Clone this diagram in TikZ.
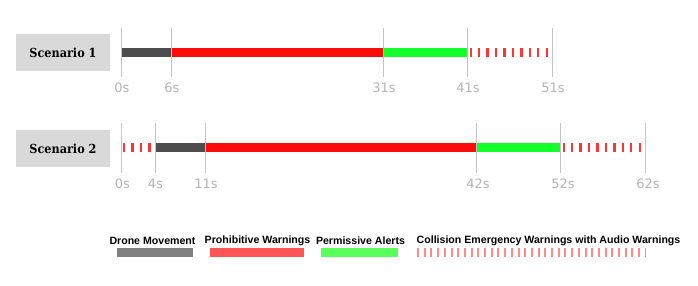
\documentclass[tikz,border=0pt]{standalone}
\usepackage{fontspec}
\setmainfont{DejaVu Serif Condensed}
\newfontfamily\legfont{Liberation Sans}
\newfontfamily\tickfont{DejaVu Sans}
\definecolor{movecol}{HTML}{4D4D4D}
\definecolor{prohcol}{HTML}{FF0A0A}
\definecolor{permcol}{HTML}{12FF2A}
\definecolor{emercol}{HTML}{FF3535}
\definecolor{tickcol}{HTML}{C4C4C4}
\definecolor{labcol}{HTML}{B4B4B4}
\definecolor{boxcol}{HTML}{D9D9D9}
\definecolor{legmove}{HTML}{808080}
\definecolor{legproh}{HTML}{FF5555}
\definecolor{legperm}{HTML}{5AFF5A}
\definecolor{legemer}{HTML}{FF8A8A}
\begin{document}
\begin{tikzpicture}[x=1pt,y=-1pt,
  scenbox/.style={fill=boxcol,minimum width=94pt,minimum height=37pt,inner sep=0pt,font=\bfseries\fontsize{12.5}{15}\selectfont},
  bar/.style={line width=9pt},
  emerdash/.style={line width=9pt,color=emercol,dash pattern=on 2.3pt off 6.15pt},
  tickline/.style={draw=tickcol,line width=0.8pt},
  ticklab/.style={text=labcol,font=\tickfont\fontsize{13}{15}\selectfont,inner sep=0pt},
  legtext/.style={font=\legfont\bfseries\fontsize{10.6}{12}\selectfont,inner sep=0pt},
  legbar/.style={line width=9pt}]
\useasboundingbox (0,0) rectangle (698,285);
% scenario boxes
\node[scenbox] (s1) at (63,52.5) {Scenario 1};
\node[scenbox] (s2) at (63,148.5) {Scenario 2};
% scenario 1 coordinates
\foreach \n/\x in {a/121,b/171.7,c/383,d/467.5,e/552}{
  \coordinate (t1\n) at (\x,28);
  \coordinate (b1\n) at (\x,77);
  \coordinate (m1\n) at (\x,52.5);
}
\coordinate (m1end) at (549,52.5);
\draw[bar,movecol] (m1a) -- (m1b);
\draw[bar,prohcol] (m1b) -- (m1c);
\draw[bar,permcol] (m1c) -- (m1d);
\draw[emerdash] ([xshift=2pt]m1d) -- (m1end);
\foreach \n in {a,b,c,d,e}{\draw[tickline] (t1\n) -- (b1\n);}
\node[ticklab] (l1a) at (122,88) {0s};
\node[ticklab] (l1b) at (172,88) {6s};
\node[ticklab] (l1c) at (384,88) {31s};
\node[ticklab] (l1d) at (468,88) {41s};
\node[ticklab] (l1e) at (553,88) {51s};
% scenario 2 coordinates
\foreach \n/\x in {a/121.5,b/155,c/205.5,d/476,e/560.5,f/645}{
  \coordinate (t2\n) at (\x,123);
  \coordinate (b2\n) at (\x,173);
  \coordinate (m2\n) at (\x,147.5);
}
\coordinate (m2end) at (642,147.5);
\coordinate (m2pre) at (153,147.5);
\draw[emerdash] ([xshift=1.5pt]m2a) -- (m2pre);
\draw[bar,movecol] (m2b) -- (m2c);
\draw[bar,prohcol] (m2c) -- (m2d);
\draw[bar,permcol] (m2d) -- (m2e);
\draw[emerdash] ([xshift=2pt]m2e) -- (m2end);
\foreach \n in {a,b,c,d,e,f}{\draw[tickline] (t2\n) -- (b2\n);}
\node[ticklab] (l2a) at (122.5,184) {0s};
\node[ticklab] (l2b) at (155.5,184) {4s};
\node[ticklab] (l2c) at (206,184) {11s};
\node[ticklab] (l2d) at (478,184) {42s};
\node[ticklab] (l2e) at (563,184) {52s};
\node[ticklab] (l2f) at (648,184) {62s};
% legend
\node[legtext] (lg1) at (152.5,240.5) {Drone Movement};
\node[legtext] (lg2) at (257.5,240.5) {Prohibitive Warnings};
\node[legtext] (lg3) at (360.5,240.5) {Permissive Alerts};
\node[legtext] (lg4) at (548.5,240.5) {Collision Emergency Warnings with Audio Warnings};
\coordinate (g1a) at (117,252.5); \coordinate (g1b) at (193,252.5);
\coordinate (g2a) at (210,252.5); \coordinate (g2b) at (304,252.5);
\coordinate (g3a) at (321,252.5); \coordinate (g3b) at (398,252.5);
\coordinate (g4a) at (417,252.5); \coordinate (g4b) at (646,252.5);
\draw[legbar,legmove] (g1a) -- (g1b);
\draw[legbar,legproh] (g2a) -- (g2b);
\draw[legbar,legperm] (g3a) -- (g3b);
\draw[legbar,legemer,dash pattern=on 2pt off 4.7pt] (g4a) -- (g4b);
\end{tikzpicture}
\end{document}
